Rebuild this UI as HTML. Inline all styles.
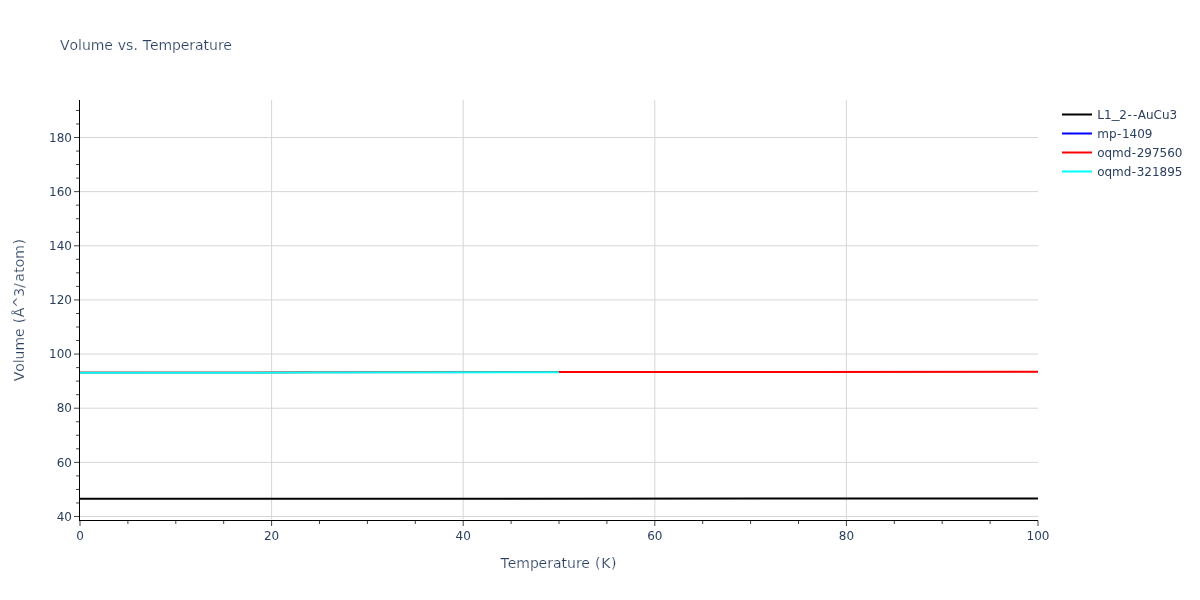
<!DOCTYPE html>
<html lang="en"><head><meta charset="utf-8"><title>Volume vs. Temperature</title>
<style>html,body{margin:0;padding:0;background:#fff;overflow:hidden}svg{display:block}text{font-family:"DejaVu Sans","Liberation Sans",sans-serif;fill:#2a3f5f;white-space:pre}.t14{font-size:14px;stroke:#fff;stroke-width:.2px}</style></head><body>
<svg xmlns="http://www.w3.org/2000/svg" width="1200" height="600" viewBox="0 0 1200 600" style="will-change:transform">
<rect width="1200" height="600" fill="#fff"/>
<g stroke="#d6d6d6" stroke-width="1">
<line x1="271.60" x2="271.60" y1="100" y2="519"/>
<line x1="463.20" x2="463.20" y1="100" y2="519"/>
<line x1="654.80" x2="654.80" y1="100" y2="519"/>
<line x1="846.40" x2="846.40" y1="100" y2="519"/>
<line x1="80" x2="1038" y1="516.50" y2="516.50"/>
<line x1="80" x2="1038" y1="462.36" y2="462.36"/>
<line x1="80" x2="1038" y1="408.21" y2="408.21"/>
<line x1="80" x2="1038" y1="354.07" y2="354.07"/>
<line x1="80" x2="1038" y1="299.93" y2="299.93"/>
<line x1="80" x2="1038" y1="245.79" y2="245.79"/>
<line x1="80" x2="1038" y1="191.64" y2="191.64"/>
<line x1="80" x2="1038" y1="137.50" y2="137.50"/>
</g>
<g fill="none" stroke-width="2">
<path d="M80,498.87L1038,498.5" stroke="#000"/>
<path d="M80,372.66L305,372.47L559,372.15L805,371.98L1038,371.8" stroke="#00f" stroke-width="0.6"/>
<path d="M80,372.56L305,372.37L559,372.05L805,371.88L1038,371.7" stroke="#f00"/>
<path d="M80,372.83L305,372.59L559,372.27" stroke="#0ff"/>
</g>
<g stroke="#444" stroke-width="1">
<line x1="80.00" x2="80.00" y1="520.5" y2="526"/>
<line x1="127.90" x2="127.90" y1="520.5" y2="524"/>
<line x1="175.80" x2="175.80" y1="520.5" y2="524"/>
<line x1="223.70" x2="223.70" y1="520.5" y2="524"/>
<line x1="271.60" x2="271.60" y1="520.5" y2="526"/>
<line x1="319.50" x2="319.50" y1="520.5" y2="524"/>
<line x1="367.40" x2="367.40" y1="520.5" y2="524"/>
<line x1="415.30" x2="415.30" y1="520.5" y2="524"/>
<line x1="463.20" x2="463.20" y1="520.5" y2="526"/>
<line x1="511.10" x2="511.10" y1="520.5" y2="524"/>
<line x1="559.00" x2="559.00" y1="520.5" y2="524"/>
<line x1="606.90" x2="606.90" y1="520.5" y2="524"/>
<line x1="654.80" x2="654.80" y1="520.5" y2="526"/>
<line x1="702.70" x2="702.70" y1="520.5" y2="524"/>
<line x1="750.60" x2="750.60" y1="520.5" y2="524"/>
<line x1="798.50" x2="798.50" y1="520.5" y2="524"/>
<line x1="846.40" x2="846.40" y1="520.5" y2="526"/>
<line x1="894.30" x2="894.30" y1="520.5" y2="524"/>
<line x1="942.20" x2="942.20" y1="520.5" y2="524"/>
<line x1="990.10" x2="990.10" y1="520.5" y2="524"/>
<line x1="1038.00" x2="1038.00" y1="520.5" y2="526"/>
<line x1="74" x2="79.5" y1="516.50" y2="516.50"/>
<line x1="76" x2="79.5" y1="502.96" y2="502.96"/>
<line x1="76" x2="79.5" y1="489.43" y2="489.43"/>
<line x1="76" x2="79.5" y1="475.89" y2="475.89"/>
<line x1="74" x2="79.5" y1="462.36" y2="462.36"/>
<line x1="76" x2="79.5" y1="448.82" y2="448.82"/>
<line x1="76" x2="79.5" y1="435.29" y2="435.29"/>
<line x1="76" x2="79.5" y1="421.75" y2="421.75"/>
<line x1="74" x2="79.5" y1="408.21" y2="408.21"/>
<line x1="76" x2="79.5" y1="394.68" y2="394.68"/>
<line x1="76" x2="79.5" y1="381.14" y2="381.14"/>
<line x1="76" x2="79.5" y1="367.61" y2="367.61"/>
<line x1="74" x2="79.5" y1="354.07" y2="354.07"/>
<line x1="76" x2="79.5" y1="340.54" y2="340.54"/>
<line x1="76" x2="79.5" y1="327.00" y2="327.00"/>
<line x1="76" x2="79.5" y1="313.46" y2="313.46"/>
<line x1="74" x2="79.5" y1="299.93" y2="299.93"/>
<line x1="76" x2="79.5" y1="286.39" y2="286.39"/>
<line x1="76" x2="79.5" y1="272.86" y2="272.86"/>
<line x1="76" x2="79.5" y1="259.32" y2="259.32"/>
<line x1="74" x2="79.5" y1="245.79" y2="245.79"/>
<line x1="76" x2="79.5" y1="232.25" y2="232.25"/>
<line x1="76" x2="79.5" y1="218.71" y2="218.71"/>
<line x1="76" x2="79.5" y1="205.18" y2="205.18"/>
<line x1="74" x2="79.5" y1="191.64" y2="191.64"/>
<line x1="76" x2="79.5" y1="178.11" y2="178.11"/>
<line x1="76" x2="79.5" y1="164.57" y2="164.57"/>
<line x1="76" x2="79.5" y1="151.04" y2="151.04"/>
<line x1="74" x2="79.5" y1="137.50" y2="137.50"/>
<line x1="76" x2="79.5" y1="123.96" y2="123.96"/>
<line x1="76" x2="79.5" y1="110.43" y2="110.43"/>
</g>
<g stroke="#000" stroke-width="1" shape-rendering="crispEdges">
<line x1="79.5" x2="79.5" y1="100" y2="521"/>
<line x1="79" x2="1038" y1="520.5" y2="520.5"/>
</g>
<g font-size="12">
<text x="76.18" y="540">0</text>
<text x="263.97 271.6" y="540">20</text>
<text x="455.57 463.2" y="540">40</text>
<text x="647.17 654.8" y="540">60</text>
<text x="838.77 846.4" y="540">80</text>
<text x="1026.55 1034.18 1041.81" y="540">100</text>
<text x="56.74 64.37" y="520.70">40</text>
<text x="56.74 64.37" y="466.56">60</text>
<text x="56.74 64.37" y="412.41">80</text>
<text x="49.11 56.74 64.37" y="358.27">100</text>
<text x="49.11 56.74 64.37" y="304.13">120</text>
<text x="49.11 56.74 64.37" y="249.99">140</text>
<text x="49.11 56.74 64.37" y="195.84">160</text>
<text x="49.11 56.74 64.37" y="141.70">180</text>
</g>
<text x="60 69.54 78.04 81.9 90.76 104.25 112.96 117.65 125.93 133.55 138.56 142.72 150.05 158.52 172.06 180.73 189.32 195.1 203.6 209.1 218.08 223.31" y="50" class="t14">Volume vs. Temperature</text>
<text x="500.53 507.87 516.33 529.88 538.55 547.13 552.91 561.42 566.92 575.89 581.13 589.84 594.98 601.15 611.03" y="568" class="t14">Temperature (K)</text>
<text transform="rotate(-90)" x="-381.35 -371.81 -363.3 -359.44 -350.58 -337.09 -328.38 -323.25 -317.34 -307.9 -296.71 -287.89 -281.74 -272.63 -267.16 -258.64 -244.57" y="24" class="t14">Volume (Å^3/atom)</text>
<g font-size="12">
<line x1="1062" x2="1092" y1="114.5" y2="114.5" stroke="#000" stroke-width="2"/>
<text x="1097.3 1103.98 1111.67 1119.23 1127.43 1132.88 1137.76 1145.96 1153.56 1161.93 1169.53" y="118.7">L1<tspan dy="-0.8" textLength="7.7" lengthAdjust="spacingAndGlyphs" style="stroke:#2a3f5f;stroke-width:.12px">_</tspan><tspan dy="0.8">2--AuCu3</tspan></text>
<line x1="1062" x2="1092" y1="133.5" y2="133.5" stroke="#00f" stroke-width="2"/>
<text x="1097.29 1108.9 1117.01 1121.89 1129.52 1137.15 1144.78" y="137.7">mp-1409</text>
<line x1="1062" x2="1092" y1="152.5" y2="152.5" stroke="#f00" stroke-width="2"/>
<text x="1097.27 1104.51 1112.05 1123.66 1131.77 1136.65 1144.28 1151.91 1159.54 1167.17 1174.8" y="156.7">oqmd-297560</text>
<line x1="1062" x2="1092" y1="171.5" y2="171.5" stroke="#0ff" stroke-width="2"/>
<text x="1097.27 1104.51 1112.05 1123.66 1131.77 1136.65 1144.28 1151.91 1159.54 1167.17 1174.8" y="175.7">oqmd-321895</text>
</g>
</svg></body></html>
